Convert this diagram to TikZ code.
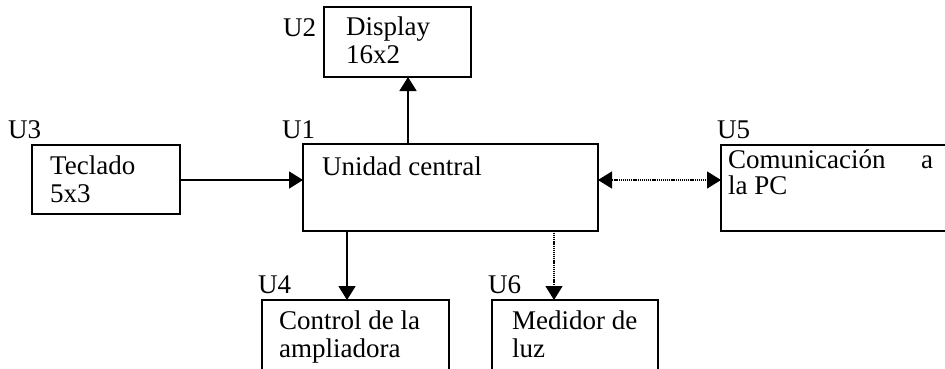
\documentclass[tikz,border=0pt]{standalone}
\usepackage{fontspec}
\setmainfont{Liberation Serif}
\usetikzlibrary{arrows.meta}
\begin{document}
\begin{tikzpicture}[x=1pt,y=-1pt,
  box/.style={draw, line width=1.9pt, anchor=north west, inner sep=0pt, outer sep=0pt},
  txt/.style={anchor=base west, inner sep=0pt, font=\fontsize{27}{27.5}\selectfont, align=left},
  arr/.style={line width=1.7pt, -{Triangle[length=14pt,width=17pt]}},
  dotarr/.style={line width=1.4pt, dash pattern=on 1.1pt off 0.8pt, {Triangle[length=14pt,width=17pt]}-{Triangle[length=14pt,width=17pt]}},
  dotone/.style={line width=1.4pt, dash pattern=on 1.1pt off 0.8pt, -{Triangle[length=14pt,width=17pt]}}]
\useasboundingbox (0,0) rectangle (945,368);
\clip (0,0) rectangle (945,368);
% boxes
\node[box, minimum width=147pt, minimum height=70pt] (u2) at (324,7) {};
\node[box, minimum width=148pt, minimum height=69pt] (u3) at (32,145) {};
\node[box, minimum width=295pt, minimum height=87pt] (u1) at (303,144) {};
\node[box, minimum width=240pt, minimum height=86pt] (u5) at (721,145) {};
\node[box, minimum width=187pt, minimum height=90pt] (u4) at (262,300) {};
\node[box, minimum width=166pt, minimum height=90pt] (u6) at (492,300) {};
% labels
\node[txt] (l2) at (283,36) {U2};
\node[txt] (l3) at (8,138) {U3};
\node[txt] (l1) at (282,138) {U1};
\node[txt] (l5) at (717,138) {U5};
\node[txt] (l4) at (258,293) {U4};
\node[txt] (l6) at (488,293) {U6};
% texts (base anchor = last line's baseline)
\node[txt] (t2) at (346,63) {Display\\16x2};
\node[txt] (t3) at (50,202) {Teclado\\5x3};
\node[txt] (t1) at (322,175) {Unidad central};
\node[txt, font=\fontsize{27}{26}\selectfont] (t5) at (728,194) {\makebox[205pt][l]{Comunicación\hfill a}\\la PC};
\node[txt] (t4) at (279,357) {Control de la\\ampliadora};
\node[txt] (t6) at (512,357) {Medidor de\\luz};
% connector references
\coordinate (cxd) at (408,0);
\coordinate (cxa) at (347,0);
\coordinate (cxm) at (554,0);
\coordinate (cyh) at (0,180);
% connectors
\draw[arr] (u1.north -| cxd) -- (u2.south -| cxd);
\draw[arr] (u3.east |- cyh) -- (u1.west |- cyh);
\draw[dotarr] (u1.east |- cyh) -- (u5.west |- cyh);
\draw[arr] (u1.south -| cxa) -- (u4.north -| cxa);
\draw[dotone] (u1.south -| cxm) -- (u6.north -| cxm);
\end{tikzpicture}
\end{document}
